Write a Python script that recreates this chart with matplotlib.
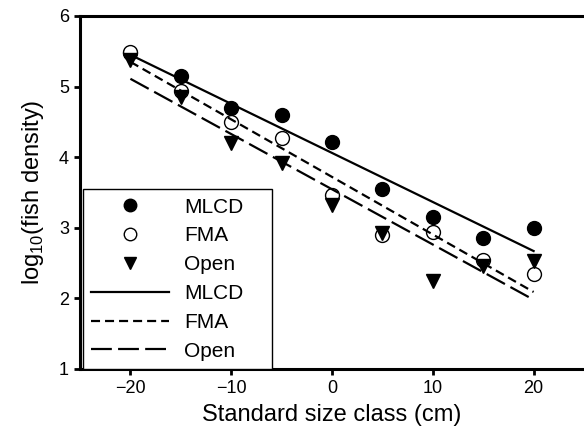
import numpy as np
import matplotlib
matplotlib.use("Agg")
import matplotlib.pyplot as plt

plt.rcParams['font.family'] = ['Liberation Sans', 'DejaVu Sans']
plt.rcParams['lines.scale_dashes'] = False

# size classes (cm)
size = np.array([-20, -15, -10, -5, 0, 5, 10, 15, 20])

# log10 fish density per site
mlcd = [5.47, 5.15, 4.70, 4.60, 4.22, 3.55, 3.15, 2.86, 3.00]
fma = [5.49, 4.94, 4.50, 4.27, 3.46, 2.90, 2.94, 2.54, 2.35]
open_ = [5.38, 4.85, 4.20, 3.92, 3.32, 2.92, 2.25, 2.46, 2.53]

# fitted regression lines (value at -20 and at 20)
fit_x = [-20, 20]
fit_mlcd = [5.45, 2.67]
fit_fma = [5.35, 2.09]
fit_open = [5.11, 1.98]

fig = plt.figure(figsize=(5.84, 4.32), dpi=100)
ax = fig.add_axes([0.137, 0.146, 0.863, 0.817])

ax.plot(size, mlcd, 'o', color='black', markersize=10, label='MLCD')
ax.plot(size, fma, 'o', markerfacecolor='white', markeredgecolor='black',
        markeredgewidth=1.0, markersize=10, label='FMA')
ax.plot(size, open_, 'v', color='black', markersize=10, label='Open')

ax.plot(fit_x, fit_mlcd, '-', color='black', lw=1.6, label='MLCD')
ax.plot(fit_x, fit_fma, color='black', lw=1.6, dashes=(6.5, 3.6), label='FMA')
ax.plot(fit_x, fit_open, color='black', lw=1.6, dashes=(15, 4.5), label='Open')

ax.set_xlim(-25, 25)
ax.set_ylim(1, 6)
ax.set_xticks([-20, -10, 0, 10, 20])
ax.set_xticklabels(['\u221220', '\u221210', '0', '10', '20'])
ax.set_yticks([1, 2, 3, 4, 5, 6])

for s in ['left', 'bottom', 'top']:
    ax.spines[s].set_linewidth(2.2)
ax.spines['right'].set_visible(False)
ax.tick_params(direction='out', length=4, width=2, labelsize=13, pad=4)
ax.tick_params(axis='x', top=False)

ax.set_xlabel('Standard size class (cm)', fontsize=17, labelpad=5)
ax.set_ylabel('log$_{\\mathregular{10}}$(fish density)', fontsize=17, labelpad=9)

leg = ax.legend(loc='lower left', bbox_to_anchor=(0.006, 0.0, 0.375, 0.5),
                mode='expand', borderaxespad=0,
                numpoints=1, fontsize=15, handlelength=3.75, fancybox=False,
                edgecolor='black', framealpha=1, labelspacing=0.47,
                handletextpad=0.7, borderpad=0.4, markerscale=0.9)
leg.get_frame().set_linewidth(1.0)

fig.savefig('out.png', dpi=100)
